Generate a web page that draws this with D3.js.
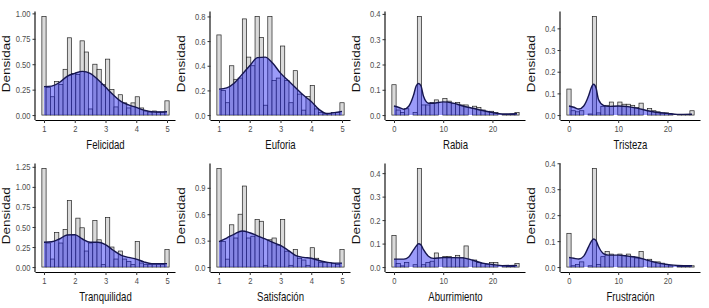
<!DOCTYPE html>
<html>
<head>
<meta charset="utf-8">
<script src="https://cdn.jsdelivr.net/npm/d3@7"></script>
<style>
body { margin: 0; background: #fff; }
</style>
</head>
<body>
<div id="chart"></div>
<script>
// histogram densities, 30 bins each (ggplot default)
const felicidad    = [0.97,0.27,0.18,0.33,0.30,0.45,0.76,0.41,0.40,0.73,0.62,0.06,0.50,0.45,0.30,0.55,0.25,0.08,0.20,0.12,0.07,0.12,0.18,0.07,0.04,0.03,0.04,0.03,0.03,0.14];
const euforia      = [0.65,0.20,0.10,0.40,0.29,0.30,0.78,0.47,0.40,0.80,0.63,0.08,0.80,0.28,0.30,0.56,0.28,0.10,0.36,0.17,0.04,0.15,0.24,0.05,0.02,0.01,0.01,0.02,0.02,0.10];
const rabia        = [0.12,0.02,0.01,0.025,0,0.01,0.39,0.04,0.04,0.05,0.06,0,0.065,0.055,0.045,0.05,0.04,0.04,0,0.035,0.03,0.02,0.015,0.015,0.01,0,0.003,0.003,0.003,0.01];
const tristeza     = [0.12,0.02,0.015,0.02,0,0.005,0.455,0.01,0.04,0.045,0.06,0,0.06,0.05,0.05,0.045,0.035,0.055,0,0.03,0.02,0.015,0.01,0.01,0.005,0,0.003,0.003,0.003,0.02];
const tranquilidad = [1.23,0.30,0.10,0.43,0.30,0.47,0.83,0.40,0.61,0.49,0.20,0.30,0.58,0.34,0.03,0.62,0.25,0.10,0.20,0.10,0.07,0.03,0.32,0.05,0.03,0.03,0.03,0.03,0.03,0.22];
const satisfacion  = [1.12,0.29,0.09,0.48,0.33,0.60,0.92,0.33,0.35,0.54,0.52,0.02,0.31,0.33,0.25,0.54,0.18,0.02,0.20,0.10,0.08,0.02,0.22,0.10,0.05,0.05,0.05,0.04,0.03,0.20];
const aburrimiento = [0.135,0.015,0.005,0.02,0,0.01,0.42,0.01,0.02,0.025,0.06,0,0.045,0.045,0.04,0.05,0.04,0.09,0,0.03,0.02,0.015,0.01,0.02,0.02,0,0.005,0.003,0.003,0.015];
const frustracion  = [0.13,0.005,0.01,0.02,0,0.005,0.38,0.01,0.04,0.06,0.05,0,0.05,0.045,0.05,0.04,0.035,0.06,0,0.03,0.02,0.02,0.015,0.01,0.005,0,0.003,0.003,0.003,0.005];

// density curves sampled at these x positions
const likertGrid = [1,1.25,1.5,1.75,2,2.25,2.5,2.75,3,3.25,3.5,3.75,4,4.25,4.5,4.75,5];
const countGrid  = [0,1,2,3,4,4.5,5,5.5,6,7,8,10,12,14,16,18,20,22,25];

const densFelicidad    = [0.28,0.285,0.32,0.38,0.41,0.43,0.41,0.35,0.275,0.2,0.135,0.1,0.076,0.048,0.033,0.03,0.033];
const densEuforia      = [0.21,0.22,0.26,0.33,0.40,0.466,0.47,0.42,0.34,0.28,0.22,0.16,0.11,0.046,0.013,0.02,0.03];
const densTranquilidad = [0.31,0.315,0.35,0.40,0.405,0.35,0.31,0.31,0.28,0.21,0.15,0.12,0.10,0.064,0.043,0.043,0.043];
const densSatisfacion  = [0.29,0.33,0.375,0.41,0.39,0.355,0.32,0.28,0.245,0.19,0.13,0.11,0.10,0.075,0.056,0.045,0.045];
const densRabia        = [0.036,0.03,0.023,0.035,0.08,0.115,0.125,0.115,0.074,0.047,0.047,0.052,0.047,0.036,0.027,0.018,0.01,0.004,0.005];
const densTristeza     = [0.042,0.036,0.028,0.042,0.09,0.125,0.142,0.125,0.072,0.045,0.04,0.042,0.039,0.031,0.02,0.012,0.008,0.003,0.004];
const densAburrimiento = [0.034,0.034,0.034,0.043,0.074,0.089,0.099,0.094,0.074,0.046,0.037,0.04,0.04,0.039,0.029,0.017,0.011,0.006,0.007];
const densFrustracion  = [0.037,0.034,0.031,0.042,0.079,0.098,0.108,0.102,0.079,0.052,0.046,0.046,0.042,0.037,0.026,0.016,0.01,0.006,0.005];

const likertTicks = [1,2,3,4,5];
const countTicks  = [0,10,20];
const yTicks = [
  [0,0.25,0.5,0.75,1], [0,0.2,0.4,0.6,0.8], [0,0.1,0.2,0.3,0.4], [0,0.1,0.2,0.3,0.4],
  [0,0.25,0.5,0.75,1,1.25], [0,0.3,0.6,0.9], [0,0.1,0.2,0.3,0.4], [0,0.1,0.2,0.3,0.4]
];
const titles = ["Felicidad","Euforia","Rabia","Tristeza","Tranquilidad","Satisfación","Aburrimiento","Frustración"];

const panels = [
  {bins: felicidad, dens: densFelicidad, grid: likertGrid, range: [1,5], xt: likertTicks},
  {bins: euforia, dens: densEuforia, grid: likertGrid, range: [1,5], xt: likertTicks},
  {bins: rabia, dens: densRabia, grid: countGrid, range: [0,25], xt: countTicks},
  {bins: tristeza, dens: densTristeza, grid: countGrid, range: [0,25], xt: countTicks},
  {bins: tranquilidad, dens: densTranquilidad, grid: likertGrid, range: [1,5], xt: likertTicks},
  {bins: satisfacion, dens: densSatisfacion, grid: likertGrid, range: [1,5], xt: likertTicks},
  {bins: aburrimiento, dens: densAburrimiento, grid: countGrid, range: [0,25], xt: countTicks},
  {bins: frustracion, dens: densFrustracion, grid: countGrid, range: [0,25], xt: countTicks}
];

const W = 709, H = 308;
const pw = 140, ph = 108.5;
const squeeze = 0.8; // the source picture is squashed horizontally
const font = "'Liberation Sans', Arial, sans-serif";

const svg = d3.select("#chart").append("svg")
    .attr("width", W)
    .attr("height", H);

panels.forEach(function(p, i) {
    const col = i % 4, row = Math.floor(i / 4);
    const left = 35.5 + 175 * col;
    const top = row === 0 ? 11.5 : 163.5;

    const g = svg.append("g")
        .attr("transform", "translate(" + left + "," + top + ")");

    const n = p.bins.length;
    const bw = (p.range[1] - p.range[0]) / (n - 1);
    const lo = p.range[0] - bw / 2, hi = p.range[1] + bw / 2;
    const pad = (hi - lo) * 0.05;
    const x = d3.scaleLinear().domain([lo - pad, hi + pad]).range([0, pw]);

    const ymax = Math.max(d3.max(p.bins), d3.max(p.dens));
    const y = d3.scaleLinear().domain([-0.05 * ymax, 1.05 * ymax]).range([ph, 0]);

    // histogram
    g.selectAll("rect.bar")
        .data(p.bins)
        .enter().append("rect")
        .attr("class", "bar")
        .attr("x", (d, k) => x(p.range[0] + k * bw - bw / 2))
        .attr("width", (d, k) => x(p.range[0] + k * bw + bw / 2) - x(p.range[0] + k * bw - bw / 2))
        .attr("y", d => y(d))
        .attr("height", d => y(0) - y(d))
        .style("fill", "#dadada")
        .style("stroke", "#222")
        .style("stroke-width", 0.7);

    // density
    const pts = p.grid.map((gx, k) => [gx, p.dens[k]]);
    const area = d3.area()
        .x(d => x(d[0]))
        .y0(y(0))
        .y1(d => y(d[1]))
        .curve(d3.curveMonotoneX);
    const line = d3.line()
        .x(d => x(d[0]))
        .y(d => y(d[1]))
        .curve(d3.curveMonotoneX);

    g.append("path")
        .datum(pts)
        .attr("d", area)
        .style("fill", "#1010f0")
        .style("fill-opacity", 0.42);
    g.append("path")
        .datum(pts)
        .attr("d", line)
        .style("fill", "none")
        .style("stroke", "#16164f")
        .style("stroke-width", 1.4);

    // axes
    const xAxis = d3.axisBottom(x).tickValues(p.xt).tickSize(3).tickPadding(2).tickFormat(d3.format("d"));
    const yFmt = (i === 0 || i === 4) ? d3.format(".2f") : d3.format(".1f");
    const yAxis = d3.axisLeft(y).tickValues(yTicks[i]).tickSize(3).tickPadding(2).tickFormat(yFmt);

    const gx = g.append("g").attr("transform", "translate(0," + ph + ")").call(xAxis);
    const gy = g.append("g").call(yAxis);
    gx.select(".domain").attr("d", "M0,0.5H" + pw);
    gy.select(".domain").attr("d", "M-0.5,0V" + ph);
    [gx, gy].forEach(function(a) {
        a.select(".domain").style("stroke", "#000").style("stroke-width", 1.1);
        a.selectAll(".tick line").style("stroke", "#333");
        a.selectAll(".tick text")
            .attr("transform", "scale(" + squeeze + ",1)")
            .style("font-family", font)
            .style("font-size", "9.5px")
            .style("fill", "#4d4d4d");
    });
    // pull the squeezed labels back next to their ticks
    gy.selectAll(".tick text").attr("x", -5 / squeeze);

    g.append("text")
        .attr("transform", "translate(" + (pw / 2) + "," + (ph + 29) + ") scale(" + squeeze + ",1)")
        .attr("text-anchor", "middle")
        .style("font-family", font)
        .style("font-size", "12px")
        .style("fill", "#111")
        .text(titles[i]);

    g.append("text")
        .attr("transform", "translate(-26," + (ph / 2 - 2) + ") scale(" + squeeze + ",1) rotate(-90)")
        .attr("text-anchor", "middle")
        .style("font-family", font)
        .style("font-size", "13.5px")
        .style("fill", "#111")
        .text("Densidad");
});
</script>
</body>
</html>
